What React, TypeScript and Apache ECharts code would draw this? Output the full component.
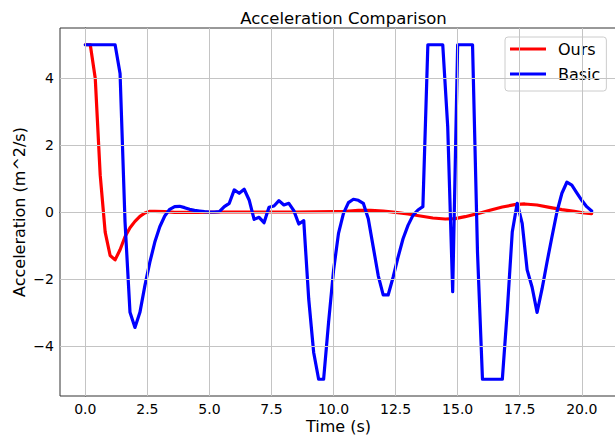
import React, { useEffect, useRef } from "react";
import * as echarts from "echarts";

const chartTitle = "Acceleration Comparison";
const xAxisTitle = "Time (s)";
const yAxisTitle = "Acceleration (m^2/s)";
const seriesNames = ["Ours", "Basic"];

const xTicks = [0, 2.5, 5, 7.5, 10, 12.5, 15, 17.5, 20];
const yTicks = [-4, -2, 0, 2, 4];

const oursTime = [0, 0.2, 0.4, 0.6, 0.8, 1.0, 1.2, 1.4, 1.6, 1.8, 2.0, 2.2, 2.4, 2.6, 2.8, 3.2, 3.6, 4.5, 5.5, 7, 8.5, 10, 10.5, 11, 11.5, 12, 12.5, 13, 13.5, 14, 14.5, 14.9, 15.3, 15.8, 16.3, 16.8, 17.3, 17.7, 18.2, 18.7, 19.2, 19.7, 20.1, 20.4];
const oursAccel = [5, 5, 4.0, 1.1, -0.6, -1.3, -1.43, -1.13, -0.74, -0.47, -0.28, -0.13, -0.03, 0.02, 0.02, 0.01, -0.01, -0.01, 0, 0, 0, 0.01, 0.02, 0.05, 0.05, 0.03, -0.01, -0.06, -0.12, -0.18, -0.21, -0.2, -0.14, -0.05, 0.05, 0.15, 0.22, 0.24, 0.21, 0.14, 0.07, 0.02, -0.03, -0.05];

const basicTime = [0.0, 0.2, 0.4, 0.6, 0.8, 1.0, 1.2, 1.4, 1.6, 1.8, 2.0, 2.2, 2.4, 2.6, 2.8, 3.0, 3.2, 3.4, 3.6, 3.8, 4.0, 4.2, 4.4, 4.6, 4.8, 5.0, 5.2, 5.4, 5.6, 5.8, 6.0, 6.2, 6.4, 6.6, 6.8, 7.0, 7.2, 7.4, 7.6, 7.8, 8.0, 8.2, 8.4, 8.6, 8.8, 9.0, 9.2, 9.4, 9.6, 9.8, 10.0, 10.2, 10.4, 10.6, 10.8, 11.0, 11.2, 11.4, 11.6, 11.8, 12.0, 12.2, 12.4, 12.6, 12.8, 13.0, 13.2, 13.4, 13.6, 13.8, 14.0, 14.2, 14.4, 14.6, 14.8, 15.0, 15.2, 15.4, 15.6, 15.8, 16.0, 16.2, 16.4, 16.6, 16.8, 17.0, 17.2, 17.4, 17.6, 17.8, 18.0, 18.2, 18.4, 18.6, 18.8, 19.0, 19.2, 19.4, 19.6, 19.8, 20.0, 20.2, 20.4];
const basicAccel = [5, 5, 5, 5, 5, 5, 5, 4.14, -0.3, -3.0, -3.45, -3.0, -2.2, -1.5, -0.9, -0.44, -0.12, 0.08, 0.16, 0.17, 0.13, 0.08, 0.05, 0.03, 0.01, 0, 0, 0.01, 0.16, 0.26, 0.66, 0.56, 0.68, 0.36, -0.22, -0.16, -0.32, 0.14, 0.18, 0.34, 0.21, 0.26, 0.04, -0.36, -0.26, -2.6, -4.2, -5, -5, -3.3, -1.75, -0.64, -0.04, 0.28, 0.38, 0.35, 0.26, -0.2, -1.05, -1.9, -2.48, -2.48, -1.95, -1.35, -0.8, -0.4, -0.1, 0.06, 0.16, 5, 5, 5, 5, 2.55, -2.38, 5, 5, 5, 5, -1.2, -5, -5, -5, -5, -5, -2.95, -0.6, 0.26, -0.34, -1.73, -2.25, -3.0, -2.3, -1.5, -0.74, 0, 0.56, 0.89, 0.8, 0.57, 0.35, 0.16, 0.03];

const FONT = "DejaVu Sans";

export default function App() {
  const ref = useRef<HTMLDivElement>(null);
  useEffect(() => {
    if (!ref.current) return;
    const chart = echarts.init(ref.current, null, { renderer: "svg" });
    const ours = oursTime.map((t, i) => [t, oursAccel[i]]);
    const basic = basicTime.map((t, i) => [t, basicAccel[i]]);
    const gridColor = "#c4c4c4";
    chart.setOption({
      animation: false,
      backgroundColor: "#ffffff",
      textStyle: { fontFamily: FONT },
      title: {
        text: chartTitle,
        left: 338.5,
        top: 5,
        textAlign: "center",
        textStyle: { fontFamily: FONT, fontSize: 16.5, fontWeight: "normal", color: "#000" },
      },
      legend: {
        orient: "vertical",
        left: 505,
        top: 37,
        itemWidth: 36,
        itemHeight: 3,
        itemGap: 9,
        icon: "rect",
        padding: [4, 6, 9, 5],
        backgroundColor: "rgba(255,255,255,0.8)",
        borderColor: "#cccccc",
        borderWidth: 1,
        borderRadius: 3,
        textStyle: { fontFamily: FONT, fontSize: 16, lineHeight: 16, color: "#000", padding: [0, 0, 0, 7] },
        data: seriesNames,
      },
      grid: {
        left: 60,
        top: 28,
        width: 557,
        height: 368,
        outerBoundsMode: "none",
        containLabel: false,
        show: true,
        borderColor: "#333",
        borderWidth: 1,
        backgroundColor: "transparent",
      },
      xAxis: {
        type: "value",
        min: -1.02,
        max: 21.42,
        name: xAxisTitle,
        nameLocation: "middle",
        nameGap: 22,
        nameMoveOverlap: false,
        nameTextStyle: { fontFamily: FONT, fontSize: 16, lineHeight: 16, color: "#000" },
        axisLine: { show: true, lineStyle: { color: "#333", width: 1 } },
        axisTick: { show: true, length: 4, customValues: xTicks, lineStyle: { color: "#333" } },
        axisLabel: {
          customValues: xTicks,
          formatter: (v: number) => v.toFixed(1),
          fontFamily: FONT,
          fontSize: 14,
          color: "#000",
          margin: 6,
        },
        splitLine: { show: false },
      },
      yAxis: {
        type: "value",
        min: -5.5,
        max: 5.5,
        name: yAxisTitle,
        nameLocation: "middle",
        nameGap: 32,
        nameMoveOverlap: false,
        nameTextStyle: { fontFamily: FONT, fontSize: 16, lineHeight: 18, color: "#000" },
        axisLine: { show: true, lineStyle: { color: "#333", width: 1 } },
        axisTick: { show: true, length: 4, customValues: yTicks, lineStyle: { color: "#333" } },
        axisLabel: {
          customValues: yTicks,
          formatter: (v: number) => (v < 0 ? "\u2212" + Math.abs(v) : String(v)),
          fontFamily: FONT,
          fontSize: 14,
          color: "#000",
          margin: 6,
        },
        splitLine: { show: false },
      },
      series: [
        {
          type: "line",
          name: "grid",
          data: [],
          z: 0,
          silent: true,
          markLine: {
            silent: true,
            symbol: "none",
            label: { show: false },
            lineStyle: { color: gridColor, width: 1, type: "solid" },
            data: [
              ...xTicks.map((v) => ({ xAxis: v })),
              ...yTicks.map((v) => ({ yAxis: v })),
            ],
          },
        },
        {
          type: "line",
          name: seriesNames[0],
          data: ours,
          showSymbol: false,
          symbol: "none",
          z: 3,
          color: "#ff0000",
          lineStyle: { color: "#ff0000", width: 3.2, join: "round", cap: "round" },
        },
        {
          type: "line",
          name: seriesNames[1],
          data: basic,
          showSymbol: false,
          symbol: "none",
          z: 4,
          color: "#0000ff",
          lineStyle: { color: "#0000ff", width: 3.2, join: "round", cap: "round" },
        },
      ],
    });
    return () => chart.dispose();
  }, []);
  return (
    <div
      ref={ref}
      style={{ position: "fixed", left: 0, top: 0, width: 615, height: 435 }}
    />
  );
}
